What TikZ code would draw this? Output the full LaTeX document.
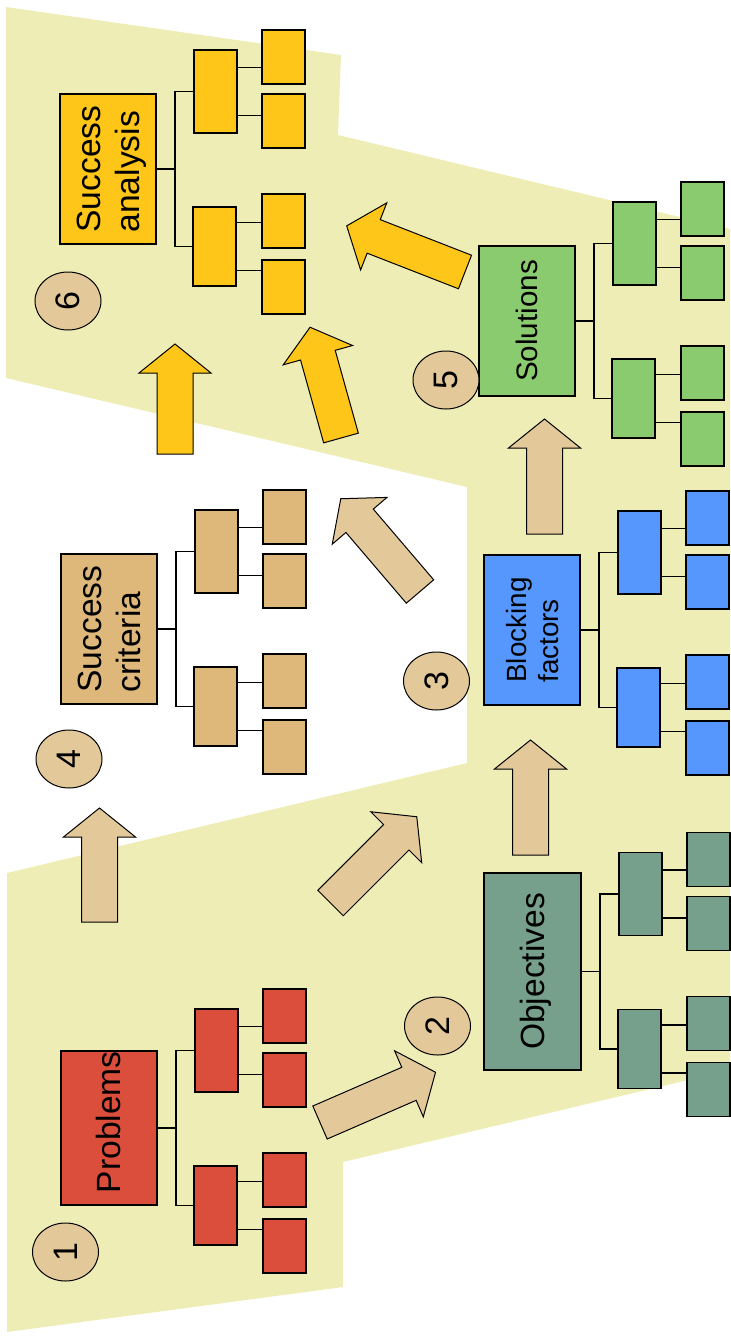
\documentclass[tikz,border=0pt]{standalone}
\usepackage{fontspec}
\setmainfont{Liberation Sans}
\usepackage{graphicx}
\usetikzlibrary{positioning, shapes.geometric}

\definecolor{bgyellow}{RGB}{239,237,182}
\definecolor{gold}{RGB}{253,198,24}
\definecolor{tandark}{RGB}{222,183,122}
\definecolor{tanlight}{RGB}{227,201,153}
\definecolor{leafgreen}{RGB}{139,203,111}
\definecolor{skyblue}{RGB}{86,151,253}
\definecolor{brick}{RGB}{220,78,60}
\definecolor{sage}{RGB}{118,160,139}

\newcommand{\vlabel}[1]{\rotatebox{90}{\raisebox{0pt}[\dimexpr\height+4pt\relax][\depth]{%
    \begin{tabular}{@{}l@{}}#1\end{tabular}}}}

% two sub boxes and four leaves to the right of a stage box
\newcommand{\branches}[2]{%
    \node[twig, fill=#2, minimum height=41.5pt] (#1-a) at ([shift={(36,-120)}]#1.east) {};
    \node[twig, fill=#2, minimum height=39.5pt] (#1-b) at ([shift={(35,37)}]#1.east) {};
    \node[leaf, fill=#2] (#1-a1) at ([shift={(104,-140)}]#1.east) {};
    \node[leaf, fill=#2] (#1-a2) at ([shift={(104,-76)}]#1.east) {};
    \node[leaf, fill=#2] (#1-b1) at ([shift={(104,24)}]#1.east) {};
    \node[leaf, fill=#2] (#1-b2) at ([shift={(104,90)}]#1.east) {};
    \draw[fork] (#1.east) -- ([xshift=9pt]#1.east);
    \draw[fork] (#1-a.west) -| ([xshift=9pt]#1.east) |- (#1-b.west);
    \draw[fork] ([yshift=12pt]#1-a.east) -- ([yshift=12pt]#1-a.east -| #1-a1.west);
    \draw[fork] ([yshift=-12pt]#1-a.east) -- ([yshift=-12pt]#1-a.east -| #1-a2.west);
    \draw[fork] ([yshift=12pt]#1-b.east) -- ([yshift=12pt]#1-b.east -| #1-b1.west);
    \draw[fork] ([yshift=-12pt]#1-b.east) -- ([yshift=-12pt]#1-b.east -| #1-b2.west);
}

\tikzset{
    pics/blockarrow/.style={code={
        \draw[pic actions] (0,-18) -- (#1-29,-18) -- (#1-29,-36) -- (#1,0)
            -- (#1-29,36) -- (#1-29,18) -- (0,18) -- cycle;
    }}
}

\begin{document}
\begin{tikzpicture}[
        x=0.5pt, y=-0.5pt,
        stage/.style={draw, line width=0.9pt, minimum width=48pt, minimum height=75pt, inner sep=0pt,
            font=\fontsize{16.8}{19.5}\selectfont},
        twig/.style={draw, line width=0.9pt, minimum width=21.5pt, inner sep=0pt, anchor=north west},
        leaf/.style={draw, line width=0.9pt, minimum width=21.5pt, minimum height=27pt, inner sep=0pt, anchor=north west},
        fork/.style={draw, line width=0.85pt},
        num/.style={ellipse, draw, fill=tanlight, line width=0.5pt, minimum width=33pt, minimum height=29pt,
            inner sep=0pt, font=\fontsize{17}{20}\selectfont},
        gold arrow/.style={draw, fill=gold, line width=0.5pt},
        tan arrow/.style={draw, fill=tanlight, line width=0.5pt}
    ]
    \useasboundingbox (0,0) rectangle (730,1338);

    % Background band
    \fill[bgyellow] (6,7) -- (341,55) -- (338,135) -- (730,229) -- (730,1070) -- (343,1162)
        -- (343,1287) -- (7,1332) -- (7,873) -- (467,763) -- (467,487) -- (6,378) -- cycle;

    % Arrows into success analysis
    \pic[gold arrow, rotate=90] at (175,454) {blockarrow=110};
    \pic[gold arrow, rotate=105.6] at (341,438) {blockarrow=115};
    \pic[gold arrow, rotate=158.7] at (465,272) {blockarrow=127};

    % Arrows between the other stages
    \pic[tan arrow, rotate=90] at (544.5,534) {blockarrow=115};
    \pic[tan arrow, rotate=90] at (530.5,855) {blockarrow=115};
    \pic[tan arrow, rotate=130.5] at (420,591.5) {blockarrow=122};
    \pic[tan arrow, rotate=45] at (330.5,903) {blockarrow=122};
    \pic[tan arrow, rotate=23.5] at (320,1122.5) {blockarrow=126};
    \pic[tan arrow, rotate=90] at (99.5,922) {blockarrow=114};

    % Stages on the left
    \node[stage, fill=gold] (analysis) at (108,169) {\vlabel{Success\\analysis}};
    \node[stage, fill=tandark] (criteria) at (109,629) {\vlabel{Success\\criteria}};
    \node[stage, fill=brick] (problems) at (109,1128) {\vlabel{\hspace{5.75pt}Problems\hspace{-5.75pt}}};

    % Stages on the right
    \node[stage, fill=leafgreen, font=\fontsize{14.8}{17}\selectfont] (solutions) at (527,321) {\vlabel{Solutions}};
    \node[stage, fill=skyblue, font=\fontsize{13.9}{16}\selectfont] (blocking) at (532,630) {\vlabel{Blocking\\factors}};
    \node[stage, fill=sage, minimum width=48.5pt, minimum height=98.5pt] (objectives) at (532.5,971.5) {\vlabel{Objectives}};

    % Sub boxes
    \branches{analysis}{gold}
    \branches{criteria}{tandark}
    \branches{problems}{brick}
    \branches{solutions}{leafgreen}
    \branches{blocking}{skyblue}
    \branches{objectives}{sage}

    % Step numbers
    \node[num] (n1) at (65.5,1252) {\rotatebox{90}{1}};
    \node[num] (n2) at (437.5,1026) {\rotatebox{90}{2}};
    \node[num] (n3) at (436.5,681) {\rotatebox{90}{3}};
    \node[num] (n4) at (69,759) {\rotatebox{90}{4}};
    \node[num] (n5) at (446,380) {\rotatebox{90}{5}};
    \node[num] (n6) at (68,301) {\rotatebox{90}{6}};

\end{tikzpicture}
\end{document}
